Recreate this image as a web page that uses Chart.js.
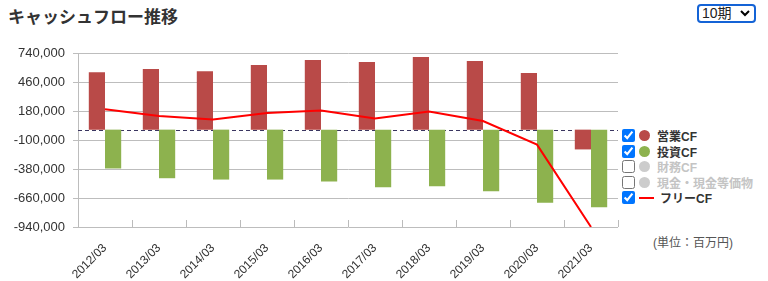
<!DOCTYPE html>
<html>
<head>
<meta charset="utf-8">
<script src="https://cdn.jsdelivr.net/npm/chart.js@4"></script>
<style>
  body { margin: 0; width: 768px; height: 281px; position: relative; background: #fff; font-family: "Liberation Sans", "Noto Sans CJK JP", sans-serif; color: #333; overflow: hidden; }
  #title { position: absolute; left: 8px; top: 3px; font: bold 17px "Noto Sans CJK JP", sans-serif; color: #333; }
  #period { position: absolute; left: 697px; top: 4px; width: 59px; height: 19px; font: 14px "Liberation Sans", "Noto Sans CJK JP", sans-serif; color: #222;
    border: 2px solid #1463d6; border-radius: 4px; padding: 0 0 0 3px; -webkit-appearance: none; appearance: none; background: #fff url("data:image/svg+xml;utf8,<svg xmlns='http://www.w3.org/2000/svg' width='10' height='7'><path d='M1 1 L5 5 L9 1' stroke='black' stroke-width='2' fill='none'/></svg>") no-repeat right 4px center; line-height: 15px; }
  #wrap { position: absolute; left: 0; top: 0; }
  #legend { position: absolute; left: 621px; top: 128px; font: bold 12px "Liberation Sans", "Noto Sans CJK JP", sans-serif; }
  .row { height: 15.5px; display: flex; align-items: center; white-space: nowrap; }
  .row input { margin: 0 4px 0 1px; width: 13px; height: 13px; }
  .dot { width: 11px; height: 11px; border-radius: 50%; display: inline-block; margin-right: 7px; }
  .ln { width: 15px; height: 2px; background: #ff0000; display: inline-block; margin-right: 6px; }
  .off { color: #c4c4c4; }
  #unit { position: absolute; left: 653px; top: 233px; font: 12px "Liberation Sans", "Noto Sans CJK JP", sans-serif; color: #555; }
</style>
</head>
<body>
<div id="title">キャッシュフロー推移</div>
<select id="period"><option>10期</option></select>
<div id="wrap"><canvas id="cf" width="620" height="281"></canvas></div>
<div id="legend"></div>
<div id="unit">(単位：百万円)</div>
<script>
const periods = ["2012/03", "2013/03", "2014/03", "2015/03", "2016/03", "2017/03", "2018/03", "2019/03", "2020/03", "2021/03"];
const operatingCF = [555000, 585000, 565000, 623000, 672000, 652000, 701000, 662000, 546000, -191000];
const investingCF = [-375000, -469000, -482000, -482000, -501000, -556000, -546000, -595000, -705000, -750000];
const freeCF = [197000, 132000, 97000, 161000, 184000, 107000, 174000, 83000, -145000, -940000];
const yMin = -940000, yMax = 740000, yStep = 280000;

const legendItems = [
    { label: "営業CF", color: "#b94a48", on: true },
    { label: "投資CF", color: "#8db24e", on: true },
    { label: "財務CF", color: "#cccccc", on: false },
    { label: "現金・現金等価物", color: "#cccccc", on: false },
    { label: "フリーCF", color: "#ff0000", on: true, line: true }
];

const legend = document.getElementById("legend");
legendItems.forEach(it => {
    const row = document.createElement("div");
    row.className = "row" + (it.on ? "" : " off");
    row.innerHTML = `<input type="checkbox" ${it.on ? "checked" : ""}>` +
        (it.line ? `<span class="ln"></span>` : `<span class="dot" style="background:${it.color}"></span>`) +
        `<span>${it.label}</span>`;
    legend.appendChild(row);
});

// zero dashed line + x ticks pointing into the plot
const extras = {
    id: "extras",
    beforeDatasetsDraw(chart) {
        const { ctx, chartArea, scales } = chart;
        const y0 = Math.round(scales.y.getPixelForValue(0)) + 0.5;
        ctx.save();
        ctx.strokeStyle = "#3a3560";
        ctx.lineWidth = 1;
        ctx.setLineDash([4, 3]);
        ctx.beginPath();
        ctx.moveTo(chartArea.left, y0);
        ctx.lineTo(chartArea.right, y0);
        ctx.stroke();
        ctx.restore();
    },
    afterDraw(chart) {
        const { ctx, chartArea, scales } = chart;
        ctx.save();
        ctx.strokeStyle = "#bbbbbb";
        ctx.lineWidth = 1;
        for (let i = 0; i <= periods.length; i++) {
            const x = Math.round(scales.x.getPixelForValue(i - 0.5)) + 0.5;
            ctx.beginPath();
            ctx.moveTo(x, chartArea.bottom);
            ctx.lineTo(x, chartArea.bottom - 7);
            ctx.stroke();
        }
        ctx.restore();
    }
};

new Chart(document.getElementById("cf"), {
    type: "bar",
    data: {
        labels: periods,
        datasets: [
            { type: "line", label: "フリーCF", data: freeCF, borderColor: "#ff0000", borderWidth: 2, pointRadius: 0, tension: 0, fill: false, order: 0 },
            { label: "営業CF", data: operatingCF, backgroundColor: "#b94a48", order: 1, categoryPercentage: 0.6, barPercentage: 1.0 },
            { label: "投資CF", data: investingCF, backgroundColor: "#8db24e", order: 1, categoryPercentage: 0.6, barPercentage: 1.0 }
        ]
    },
    options: {
        responsive: false,
        animation: false,
        devicePixelRatio: 1,
        layout: { padding: { top: 53, right: 2, left: 0, bottom: 0 } },
        plugins: { legend: { display: false }, tooltip: { enabled: false } },
        scales: {
            x: {
                grid: { display: false },
                border: { display: false },
                ticks: { minRotation: 45, maxRotation: 45, autoSkip: false, padding: 6, color: "#333", font: { family: "Liberation Sans", size: 12 } },
                afterFit(scale) { scale.height = 54; }
            },
            y: {
                min: yMin, max: yMax,
                grid: { color: "#bdbdbd", tickLength: 5 },
                border: { display: true, color: "#bdbdbd" },
                ticks: { stepSize: yStep, padding: 8, color: "#333", font: { family: "Liberation Sans", size: 13 },
                    callback: v => v.toLocaleString("en-US") },
                afterFit(scale) { scale.width = 78; }
            }
        }
    },
    plugins: [extras]
});
</script>
</body>
</html>
